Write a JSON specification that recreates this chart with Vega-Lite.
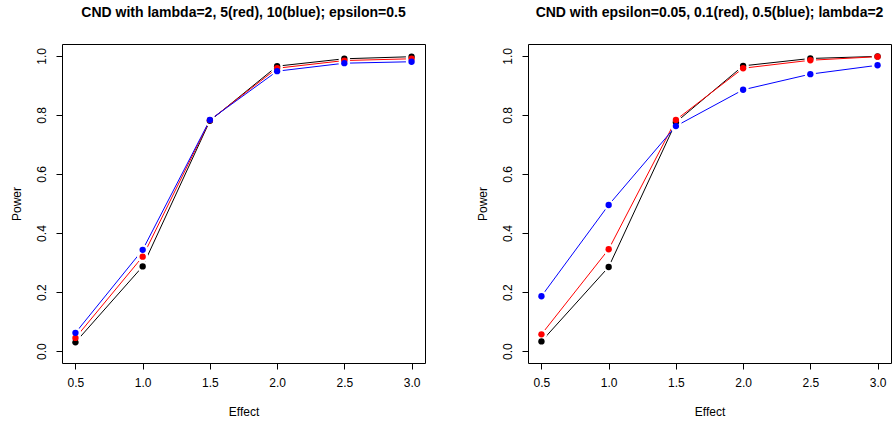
{
  "$schema": "https://vega.github.io/schema/vega-lite/v6.json",
  "background": "white",
  "padding": {"left": 9, "top": 5, "right": 2, "bottom": 2},
  "spacing": 49,
  "config": {
    "font": "Liberation Sans",
    "view": {"stroke": "black", "strokeWidth": 1},
    "axis": {
      "grid": false,
      "domain": false,
      "tickColor": "black",
      "tickSize": 6,
      "labelFont": "Liberation Sans",
      "labelFontSize": 12,
      "labelColor": "black",
      "titleFont": "Liberation Sans",
      "titleFontSize": 12,
      "titleFontWeight": "normal",
      "titleColor": "black"
    },
    "title": {"font": "Liberation Sans", "fontSize": 14, "fontWeight": "bold", "color": "black", "offset": 24}
  },
  "datasets": {
    "left": [
      {"effect": 0.5, "power": 0.030, "series": "lambda=2"},
      {"effect": 1.0, "power": 0.287, "series": "lambda=2"},
      {"effect": 1.5, "power": 0.780, "series": "lambda=2"},
      {"effect": 2.0, "power": 0.965, "series": "lambda=2"},
      {"effect": 2.5, "power": 0.990, "series": "lambda=2"},
      {"effect": 3.0, "power": 0.997, "series": "lambda=2"},
      {"effect": 0.5, "power": 0.045, "series": "lambda=5"},
      {"effect": 1.0, "power": 0.320, "series": "lambda=5"},
      {"effect": 1.5, "power": 0.782, "series": "lambda=5"},
      {"effect": 2.0, "power": 0.958, "series": "lambda=5"},
      {"effect": 2.5, "power": 0.984, "series": "lambda=5"},
      {"effect": 3.0, "power": 0.990, "series": "lambda=5"},
      {"effect": 0.5, "power": 0.062, "series": "lambda=10"},
      {"effect": 1.0, "power": 0.343, "series": "lambda=10"},
      {"effect": 1.5, "power": 0.783, "series": "lambda=10"},
      {"effect": 2.0, "power": 0.948, "series": "lambda=10"},
      {"effect": 2.5, "power": 0.975, "series": "lambda=10"},
      {"effect": 3.0, "power": 0.980, "series": "lambda=10"}
    ],
    "right": [
      {"effect": 0.5, "power": 0.033, "series": "epsilon=0.05"},
      {"effect": 1.0, "power": 0.285, "series": "epsilon=0.05"},
      {"effect": 1.5, "power": 0.775, "series": "epsilon=0.05"},
      {"effect": 2.0, "power": 0.966, "series": "epsilon=0.05"},
      {"effect": 2.5, "power": 0.991, "series": "epsilon=0.05"},
      {"effect": 3.0, "power": 0.998, "series": "epsilon=0.05"},
      {"effect": 0.5, "power": 0.057, "series": "epsilon=0.1"},
      {"effect": 1.0, "power": 0.345, "series": "epsilon=0.1"},
      {"effect": 1.5, "power": 0.783, "series": "epsilon=0.1"},
      {"effect": 2.0, "power": 0.958, "series": "epsilon=0.1"},
      {"effect": 2.5, "power": 0.985, "series": "epsilon=0.1"},
      {"effect": 3.0, "power": 0.997, "series": "epsilon=0.1"},
      {"effect": 0.5, "power": 0.186, "series": "epsilon=0.5"},
      {"effect": 1.0, "power": 0.495, "series": "epsilon=0.5"},
      {"effect": 1.5, "power": 0.762, "series": "epsilon=0.5"},
      {"effect": 2.0, "power": 0.885, "series": "epsilon=0.5"},
      {"effect": 2.5, "power": 0.938, "series": "epsilon=0.5"},
      {"effect": 3.0, "power": 0.968, "series": "epsilon=0.5"}
    ]
  },
  "resolve": {"scale": {"color": "independent"}},
  "hconcat": [
    {
      "title": "CND with lambda=2, 5(red), 10(blue); epsilon=0.5",
      "width": 363,
      "height": 319,
      "data": {"name": "left"},
      "encoding": {
        "x": {"field": "effect", "type": "quantitative", "scale": {"domain": [0.4, 3.1], "nice": false, "zero": false},
              "axis": {"title": "Effect", "values": [0.5, 1.0, 1.5, 2.0, 2.5, 3.0], "format": ".1f", "labelPadding": 8, "titlePadding": 18}},
        "y": {"field": "power", "type": "quantitative", "scale": {"domain": [-0.04, 1.04], "nice": false, "zero": false},
              "axis": {"title": "Power", "values": [0, 0.2, 0.4, 0.6, 0.8, 1.0], "format": ".1f", "labelAngle": -90, "labelAlign": "center", "labelBaseline": "bottom", "labelPadding": 8, "titlePadding": 12}},
        "color": {"field": "series", "type": "nominal", "scale": {"domain": ["lambda=2", "lambda=5", "lambda=10"], "range": ["#000000", "#ff0000", "#0000ff"]}, "legend": null}
      },
      "layer": [
        {"mark": {"type": "line", "strokeWidth": 1}},
        {"mark": {"type": "circle", "opacity": 1, "size": 130}, "encoding": {"color": {"value": "white"}}},
        {"mark": {"type": "circle", "opacity": 1, "size": 40}}
      ]
    },
    {
      "title": "CND with epsilon=0.05, 0.1(red), 0.5(blue); lambda=2",
      "width": 363,
      "height": 319,
      "data": {"name": "right"},
      "encoding": {
        "x": {"field": "effect", "type": "quantitative", "scale": {"domain": [0.4, 3.1], "nice": false, "zero": false},
              "axis": {"title": "Effect", "values": [0.5, 1.0, 1.5, 2.0, 2.5, 3.0], "format": ".1f", "labelPadding": 8, "titlePadding": 18}},
        "y": {"field": "power", "type": "quantitative", "scale": {"domain": [-0.04, 1.04], "nice": false, "zero": false},
              "axis": {"title": "Power", "values": [0, 0.2, 0.4, 0.6, 0.8, 1.0], "format": ".1f", "labelAngle": -90, "labelAlign": "center", "labelBaseline": "bottom", "labelPadding": 8, "titlePadding": 12}},
        "color": {"field": "series", "type": "nominal", "scale": {"domain": ["epsilon=0.05", "epsilon=0.1", "epsilon=0.5"], "range": ["#000000", "#ff0000", "#0000ff"]}, "legend": null}
      },
      "layer": [
        {"mark": {"type": "line", "strokeWidth": 1}},
        {"mark": {"type": "circle", "opacity": 1, "size": 130}, "encoding": {"color": {"value": "white"}}},
        {"mark": {"type": "circle", "opacity": 1, "size": 40}}
      ]
    }
  ]
}
